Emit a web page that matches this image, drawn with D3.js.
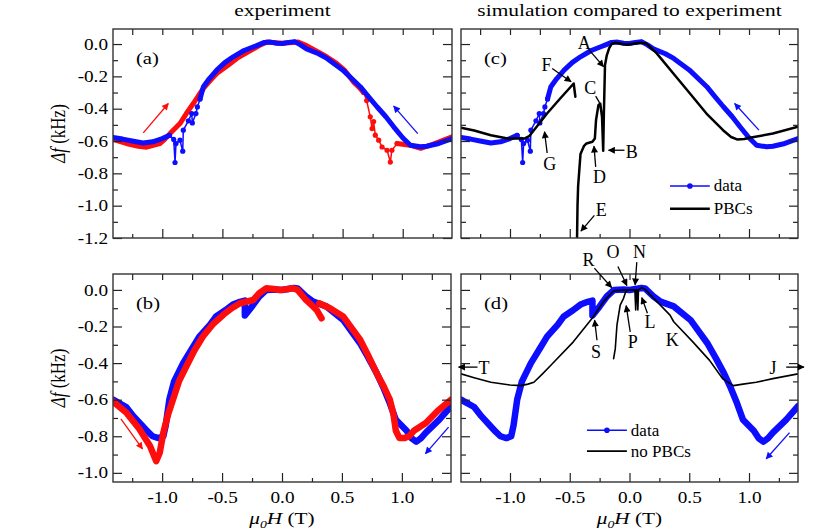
<!DOCTYPE html>
<html>
<head>
<meta charset="utf-8">
<script src="https://cdn.jsdelivr.net/npm/d3@7"></script>
<style>
  body { margin: 0; background: #fff; }
  svg, svg text { font-family: "Liberation Serif", "Times New Roman", "DejaVu Serif", serif; }
</style>
</head>
<body>
<svg id="fig" width="830" height="531"></svg>
<script>
// ---- data: [mu0H (T), delta f (kHz)] ----
var xMajor = [-1.0, -0.5, 0.0, 0.5, 1.0];
var xMinor = [-1.25, -0.75, -0.25, 0.25, 0.75, 1.25];
var yMajorTop = [0.0, -0.2, -0.4, -0.6, -0.8, -1.0, -1.2];
var yMinorTop = [-0.1, -0.3, -0.5, -0.7, -0.9, -1.1];
var yMajorBot = [0.0, -0.2, -0.4, -0.6, -0.8, -1.0];
var yMinorBot = [-0.1, -0.3, -0.5, -0.7, -0.9];

// (a)/(c) experiment, blue sweep (right to left)
var blueUp1 = [[1.41,-0.585],[1.3,-0.615],[1.2,-0.632],[1.147,-0.636],[1.064,-0.626],[1.0,-0.58],[0.925,-0.512],
  [0.86,-0.45],[0.786,-0.388],[0.72,-0.33],[0.647,-0.264],[0.5,-0.16],[0.37,-0.089],[0.3,-0.06],[0.2,-0.03],
  [0.15,-0.005],[0.1,0.015],[0.05,0.01],[0.0,0.003],[-0.05,0.005],[-0.1,0.012],[-0.15,0.01],[-0.2,-0.005],
  [-0.24,-0.017],[-0.32,-0.04],[-0.41,-0.079],[-0.48,-0.115],[-0.547,-0.161],[-0.61,-0.215],[-0.658,-0.264],
  [-0.686,-0.34]];
var blueUpDip = [[-0.686,-0.34],[-0.708,-0.389],[-0.72,-0.43],[-0.75,-0.488],[-0.755,-0.43],[-0.783,-0.475],
  [-0.825,-0.533],[-0.83,-0.663],[-0.853,-0.595],[-0.886,-0.616],[-0.894,-0.733],[-0.905,-0.59],[-0.94,-0.565]];
var blueUp2 = [[-0.94,-0.565],[-1.0,-0.585],[-1.08,-0.605],[-1.16,-0.612],[-1.25,-0.6],[-1.33,-0.588],[-1.41,-0.578]];
// (a) experiment, red sweep (left to right)
var redUp1 = [[-1.41,-0.59],[-1.3,-0.615],[-1.2,-0.632],[-1.13,-0.638],[-1.02,-0.616],[-0.98,-0.59],[-0.936,-0.554],
  [-0.853,-0.492],[-0.8,-0.43],[-0.742,-0.368],[-0.7,-0.32],[-0.658,-0.275],[-0.6,-0.225],[-0.547,-0.182],
  [-0.45,-0.13],[-0.38,-0.089],[-0.3,-0.055],[-0.186,-0.006],[-0.13,0.012],[-0.05,0.008],[0.0,0.005],[0.08,0.01],
  [0.13,0.012],[0.2,-0.01],[0.3,-0.05],[0.37,-0.08],[0.45,-0.12],[0.52,-0.165],[0.59,-0.234],[0.64,-0.27],
  [0.675,-0.3]];
var redUpDip = [[0.675,-0.3],[0.7,-0.35],[0.73,-0.45],[0.745,-0.523],[0.758,-0.48],[0.772,-0.564],[0.8,-0.595],
  [0.828,-0.637],[0.87,-0.657],[0.897,-0.73],[0.91,-0.657],[0.953,-0.616]];
var redUp2 = [[0.953,-0.616],[1.06,-0.626],[1.15,-0.645],[1.25,-0.62],[1.41,-0.574]];

// (b)/(d) experiment
var blueDown = [[-1.41,-0.6],[-1.3,-0.64],[-1.24,-0.69],[-1.17,-0.74],[-1.12,-0.775],[-1.08,-0.8],[-1.03,-0.81],
  [-0.99,-0.8],[-0.97,-0.74],[-0.94,-0.6],[-0.9,-0.5],[-0.825,-0.4],[-0.75,-0.32],[-0.69,-0.255],[-0.6,-0.19],
  [-0.55,-0.145],[-0.47,-0.11],[-0.41,-0.08],[-0.35,-0.065],[-0.31,-0.058],[-0.31,-0.14],[-0.25,-0.09],
  [-0.19,-0.036],[-0.13,0.0],[-0.05,0.002],[0.0,0.0],[0.05,0.005],[0.1,0.01],[0.13,0.008],[0.2,-0.035],
  [0.26,-0.064],[0.37,-0.09],[0.51,-0.164],[0.65,-0.29],[0.72,-0.37],[0.79,-0.455],[0.85,-0.54],[0.9,-0.62],
  [0.95,-0.71],[1.04,-0.77],[1.08,-0.81],[1.12,-0.83],[1.16,-0.81],[1.2,-0.78],[1.31,-0.71],[1.41,-0.636]];
var redDownA = [[-1.41,-0.61],[-1.3,-0.67],[-1.19,-0.76],[-1.1,-0.855],[-1.05,-0.936],[-1.02,-0.89],[-0.99,-0.78],
  [-0.95,-0.68],[-0.91,-0.6],[-0.86,-0.5],[-0.8,-0.42],[-0.73,-0.33],[-0.66,-0.255],[-0.58,-0.19],[-0.49,-0.136],
  [-0.42,-0.1],[-0.35,-0.073],[-0.24,-0.055],[-0.19,-0.018],[-0.13,0.009],[-0.07,0.005],[-0.02,0.0],[0.04,0.004],
  [0.09,0.009],[0.13,0.0],[0.2,-0.055],[0.25,-0.085],[0.29,-0.11],[0.33,-0.155]];
var redDownB = [[0.31,-0.073],[0.4,-0.1],[0.51,-0.145],[0.65,-0.27],[0.72,-0.36],[0.79,-0.455],[0.85,-0.53],
  [0.9,-0.6],[0.93,-0.68],[0.95,-0.77],[0.98,-0.81],[1.02,-0.81],[1.06,-0.8],[1.1,-0.77],[1.2,-0.727],
  [1.3,-0.66],[1.41,-0.6]];

// (c) simulation with PBCs
var pbcA = [[-1.41,-0.517],[-1.3,-0.535],[-1.16,-0.564],[-1.02,-0.585],[-0.88,-0.585],[-0.84,-0.57],[-0.8,-0.533],
  [-0.69,-0.43],[-0.58,-0.337],[-0.467,-0.244],[-0.453,-0.326]];
var pbcB = [[-0.44,-1.25],[-0.435,-1.0],[-0.43,-0.88],[-0.41,-0.68],[-0.38,-0.63],[-0.36,-0.615],[-0.31,-0.605],
  [-0.29,-0.585],[-0.28,-0.47],[-0.26,-0.378],[-0.245,-0.368],[-0.23,-0.45],[-0.22,-0.66],[-0.215,-0.45],
  [-0.205,-0.13],[-0.19,-0.07],[-0.17,-0.025],[-0.15,0.0],[-0.12,0.008],[-0.02,-0.004],[0.09,0.008],[0.14,0.004],
  [0.228,-0.058],[0.367,-0.182],[0.506,-0.306],[0.644,-0.43],[0.783,-0.533],[0.85,-0.575],[0.9,-0.59],
  [0.96,-0.588],[1.006,-0.58],[1.2,-0.554],[1.41,-0.512]];

// (d) simulation without PBCs
var noPbcA = [[-1.41,-0.459],[-1.3,-0.48],[-1.16,-0.505],[-1.0,-0.52],[-0.91,-0.523],[-0.85,-0.515],[-0.8,-0.505],
  [-0.73,-0.46],[-0.66,-0.413],[-0.47,-0.284],[-0.314,-0.156],[-0.217,-0.064],[-0.133,-0.005],[-0.036,0.0],
  [0.045,0.0],[0.052,-0.11],[0.058,0.0],[0.065,0.0],[0.07,-0.11],[0.075,0.0],[0.103,0.013],[0.13,0.003],
  [0.23,-0.064],[0.339,-0.138],[0.37,-0.174],[0.53,-0.284],[0.67,-0.385],[0.78,-0.486],[0.87,-0.523],
  [0.95,-0.515],[1.06,-0.505],[1.2,-0.485],[1.41,-0.459]];
var noPbcB = [[-0.133,-0.376],[-0.119,-0.321],[-0.105,-0.193],[-0.078,-0.083],[-0.05,-0.046],[-0.036,-0.018],[-0.02,0.0]];

// annotations: letter position and arrow, in data units
var annC = [
  {t: "A", at: [-0.378, 0.008], from: [-0.342, -0.033], to: [-0.217, -0.14], head: true},
  {t: "F", at: [-0.694, -0.13], from: [-0.647, -0.151], to: [-0.489, -0.233], head: true},
  {t: "C", at: [-0.328, -0.275], from: [-0.283, -0.322], to: [-0.25, -0.364], head: false},
  {t: "B", at: [0.019, -0.667], from: [-0.042, -0.657], to: [-0.175, -0.657], head: true},
  {t: "D", at: [-0.25, -0.822], from: [-0.283, -0.76], to: [-0.297, -0.632], head: true},
  {t: "G", at: [-0.667, -0.744], from: [-0.689, -0.674], to: [-0.711, -0.543], head: true},
  {t: "E", at: [-0.236, -1.029], from: [-0.294, -1.06], to: [-0.406, -1.157], head: true}];
var annD = [
  {t: "R", at: [-0.342, 0.165], from: [-0.294, 0.119], to: [-0.15, 0.013], head: true},
  {t: "O", at: [-0.139, 0.207], from: [-0.097, 0.128], to: [-0.022, 0.024], head: true},
  {t: "N", at: [0.083, 0.207], from: [0.061, 0.152], to: [0.047, 0.028], head: true},
  {t: "L", at: [0.172, -0.178], from: [0.15, -0.128], to: [0.103, -0.042], head: true},
  {t: "P", at: [0.028, -0.284], from: [0.006, -0.229], to: [-0.028, -0.086], head: true},
  {t: "K", at: [0.358, -0.275]},
  {t: "S", at: [-0.281, -0.339], from: [-0.272, -0.275], to: [-0.292, -0.165], head: true},
  {t: "T", at: [-1.217, -0.428], from: [-1.272, -0.422], to: [-1.43, -0.422], head: true},
  {t: "J", at: [1.2, -0.428], from: [1.311, -0.422], to: [1.46, -0.422], head: true}];

// sweep direction arrows
var arrA = [{c: "red", from: [-1.158, -0.55], to: [-0.95, -0.368]}, {c: "blue", from: [1.125, -0.554], to: [0.925, -0.384]}];
var arrB = [{c: "red", from: [-1.344, -0.705], to: [-1.164, -0.869]}, {c: "blue", from: [1.39, -0.75], to: [1.197, -0.895]}];
var arrC = [{c: "blue", from: [1.083, -0.533], to: [0.88, -0.368]}];
var arrD = [{c: "blue", from: [1.339, -0.78], to: [1.144, -0.923]}];

var BLUE = "#0d0dff", RED = "#ff0d0d";
var FONT = "'Liberation Serif', 'Times New Roman', 'DejaVu Serif', serif";
var xDomain = [-1.41, 1.41];
var fmt = function(d) { return d.toFixed(1); };

var svg = d3.select("#fig").style("font-family", FONT);
var defs = svg.append("defs");
[["blue", BLUE], ["red", RED], ["black", "#000"]].forEach(function(c) {
  defs.append("marker").attr("id", "head-" + c[0])
    .attr("viewBox", "0 0 10 10").attr("refX", 9).attr("refY", 5)
    .attr("markerWidth", 8).attr("markerHeight", 7).attr("markerUnits", "userSpaceOnUse")
    .attr("orient", "auto")
    .append("path").attr("d", "M0,0 L10,5 L0,10 z").attr("fill", c[1]);
});

function txt(sel, size) {
  return sel.style("font-family", FONT).style("font-size", size + "px").attr("fill", "#000");
}
// the figure's lettering is a bit wide: stretch horizontally about the anchor x
function widen(sel, k) {
  sel.each(function() {
    var x0 = +(this.getAttribute("x") || 0);
    d3.select(this).attr("transform", `translate(${x0},0) scale(${k},1) translate(${-x0},0)`);
  });
  return sel;
}

function panel(p) {
  var x = d3.scaleLinear().domain(xDomain).range([p.x0, p.x1]);
  var y = d3.scaleLinear().domain(p.yDom).range([p.y1, p.y0]);
  var g = svg.append("g");
  var line = d3.line().x(d => x(d[0])).y(d => y(d[1]));

  defs.append("clipPath").attr("id", "clip-" + p.id)
    .append("rect").attr("x", p.x0).attr("y", p.y0).attr("width", p.x1 - p.x0).attr("height", p.y1 - p.y0);
  var plot = g.append("g").attr("clip-path", "url(#clip-" + p.id + ")");

  // axes, ticks inward on all four sides
  function axis(gen, tr, vals, size, lab, pad) {
    var a = g.append("g").attr("transform", tr)
      .call(gen.tickValues(vals).tickSizeInner(-size).tickSizeOuter(0).tickPadding(pad)
        .tickFormat(lab ? fmt : ""));
    a.attr("font-family", null).attr("font-size", null);
    a.select(".domain").remove();
    a.selectAll("line").attr("stroke", "#222").attr("stroke-width", 1.2);
    widen(txt(a.selectAll("text"), 16), 1.2);
  }
  axis(d3.axisBottom(x), `translate(0,${p.y1})`, xMajor, 9, p.xLab, 10);
  axis(d3.axisBottom(x), `translate(0,${p.y1})`, xMinor, 4, false, 10);
  axis(d3.axisTop(x), `translate(0,${p.y0})`, xMajor, 6, false, 3);
  axis(d3.axisTop(x), `translate(0,${p.y0})`, xMinor, 6, false, 3);
  axis(d3.axisLeft(y), `translate(${p.x0},0)`, p.yMaj, 9, p.yLab, 5);
  axis(d3.axisLeft(y), `translate(${p.x0},0)`, p.yMin, 5, false, 5);
  axis(d3.axisRight(y), `translate(${p.x1},0)`, p.yMaj, 9, false, 3);
  axis(d3.axisRight(y), `translate(${p.x1},0)`, p.yMin, 5, false, 3);

  g.append("rect").attr("x", p.x0).attr("y", p.y0)
    .attr("width", p.x1 - p.x0).attr("height", p.y1 - p.y0)
    .attr("fill", "none").attr("stroke", "#333").attr("stroke-width", 1.4);

  p.series.forEach(function(s) {
    plot.append("path").datum(s.data).attr("d", line)
      .attr("fill", "none").attr("stroke", s.color).attr("stroke-width", s.w)
      .attr("stroke-linejoin", "round").attr("stroke-linecap", "round");
    if (s.dot) {
      plot.selectAll(null).data(s.data).enter().append("circle")
        .attr("cx", d => x(d[0])).attr("cy", d => y(d[1])).attr("r", s.dot).attr("fill", s.color);
    }
  });

  (p.arrows || []).forEach(function(a) {
    g.append("line").attr("x1", x(a.from[0])).attr("y1", y(a.from[1]))
      .attr("x2", x(a.to[0])).attr("y2", y(a.to[1]))
      .attr("stroke", a.c == "red" ? RED : BLUE).attr("stroke-width", 1.3)
      .attr("marker-end", "url(#head-" + a.c + ")");
  });

  (p.ann || []).forEach(function(a) {
    txt(g.append("text"), 18).attr("x", x(a.at[0])).attr("y", y(a.at[1]))
      .attr("text-anchor", "middle").attr("dominant-baseline", "central").text(a.t);
    if (a.from) {
      g.append("line").attr("x1", x(a.from[0])).attr("y1", y(a.from[1]))
        .attr("x2", x(a.to[0])).attr("y2", y(a.to[1]))
        .attr("stroke", "#000").attr("stroke-width", 1.3)
        .attr("marker-end", a.head ? "url(#head-black)" : null);
    }
  });

  (p.legend || []).forEach(function(l) {
    g.append("line").attr("x1", x(l.x[0])).attr("x2", x(l.x[1]))
      .attr("y1", y(l.y)).attr("y2", y(l.y))
      .attr("stroke", l.color).attr("stroke-width", l.w);
    if (l.dot) {
      g.append("circle").attr("cx", (x(l.x[0]) + x(l.x[1])) / 2).attr("cy", y(l.y))
        .attr("r", 2.8).attr("fill", l.color);
    }
    txt(g.append("text"), 17).attr("x", x(l.x[1]) + 4).attr("y", y(l.y))
      .attr("dominant-baseline", "central").text(l.label);
  });

  widen(txt(g.append("text"), 16.5).attr("x", p.x0 + 23).attr("y", p.y0 + 29)
    .attr("dominant-baseline", "central").text(p.tag), 1.25);

  if (p.yLab) {
    var yl = txt(g.append("text"), 17)
      .attr("transform", `translate(${p.x0 - 48},${(p.y0 + p.y1) / 2}) rotate(-90) scale(1,1.25)`)
      .attr("text-anchor", "middle");
    yl.append("tspan").style("font-style", "italic").text("\u0394f");
    yl.append("tspan").text(" (kHz)");
  }
  if (p.xLab) {
    var xl = txt(g.append("text"), 17).attr("x", (p.x0 + p.x1) / 2).attr("y", p.y1 + 42)
      .attr("text-anchor", "middle");
    xl.append("tspan").style("font-style", "italic").text("\u03bc");
    xl.append("tspan").style("font-style", "italic").style("font-size", "11px").attr("dy", 4).text("0");
    xl.append("tspan").style("font-style", "italic").attr("dy", -4).text("H");
    xl.append("tspan").text(" (T)");
    widen(xl, 1.25);
  }
  if (p.title) {
    widen(txt(g.append("text"), 16.5).attr("x", (p.x0 + p.x1) / 2).attr("y", 16)
      .attr("text-anchor", "middle").text(p.title), 1.3);
  }
}

panel({id: "a", tag: "(a)", title: "experiment", x0: 113, x1: 452, y0: 29, y1: 238,
  yDom: [-1.2, 0.093], yMaj: yMajorTop, yMin: yMinorTop, yLab: true, xLab: false,
  series: [
    {data: redUp1, color: RED, w: 5},
    {data: redUpDip, color: RED, w: 1.5, dot: 2.6},
    {data: redUp2, color: RED, w: 5},
    {data: blueUp1, color: BLUE, w: 5},
    {data: blueUpDip, color: BLUE, w: 1.5, dot: 2.6},
    {data: blueUp2, color: BLUE, w: 5}],
  arrows: arrA});
panel({id: "b", tag: "(b)", x0: 113, x1: 451, y0: 274, y1: 482,
  yDom: [-1.05, 0.087], yMaj: yMajorBot, yMin: yMinorBot, yLab: true, xLab: true,
  series: [
    {data: blueDown, color: BLUE, w: 6.5},
    {data: redDownA, color: RED, w: 6.5},
    {data: redDownB, color: RED, w: 6.5}],
  arrows: arrB});
panel({id: "c", tag: "(c)", title: "simulation compared to experiment", x0: 461, x1: 798, y0: 29, y1: 238,
  yDom: [-1.2, 0.093], yMaj: yMajorTop, yMin: yMinorTop, yLab: false, xLab: false,
  series: [
    {data: blueUp1, color: BLUE, w: 5},
    {data: blueUpDip, color: BLUE, w: 1.5, dot: 2.6},
    {data: blueUp2, color: BLUE, w: 5},
    {data: pbcA, color: "#000", w: 2.5},
    {data: pbcB, color: "#000", w: 2.5}],
  arrows: arrC, ann: annC,
  legend: [
    {x: [0.339, 0.672], y: -0.878, color: BLUE, w: 1.5, dot: true, label: "data"},
    {x: [0.339, 0.672], y: -1.019, color: "#000", w: 2.5, label: "PBCs"}]});
panel({id: "d", tag: "(d)", x0: 461, x1: 798, y0: 274, y1: 482,
  yDom: [-1.05, 0.087], yMaj: yMajorBot, yMin: yMinorBot, yLab: false, xLab: true,
  series: [
    {data: blueDown, color: BLUE, w: 6.5},
    {data: noPbcA, color: "#000", w: 1.6},
    {data: noPbcB, color: "#000", w: 1.6}],
  arrows: arrD, ann: annD,
  legend: [
    {x: [-0.356, -0.022], y: -0.767, color: BLUE, w: 1.5, dot: true, label: "data"},
    {x: [-0.356, -0.022], y: -0.881, color: "#000", w: 1.6, label: "no PBCs"}]});
</script>
</body>
</html>
